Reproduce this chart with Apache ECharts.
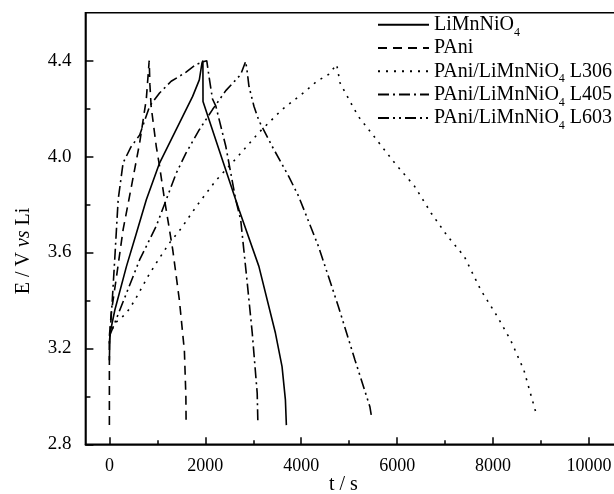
<!DOCTYPE html>
<html>
<head>
<meta charset="utf-8">
<script src="https://cdn.jsdelivr.net/npm/echarts@6/dist/echarts.min.js"></script>
<style>html,body{margin:0;padding:0;background:#fff}#c{width:614px;height:494px}</style>
</head>
<body>
<div id="c"></div>
<script>
// ---- data (t / s, E / V) ----
const seriesNames = ['LiMnNiO4', 'PAni', 'PAni/LiMnNiO4 L306', 'PAni/LiMnNiO4 L405', 'PAni/LiMnNiO4 L603'];
const limnnio = [[0,3.15],[10,3.26],[114,3.36],[356,3.542],[563,3.68],[770,3.82],[1046,3.973],[1392,4.112],[1736,4.251],[1875,4.32],[1930,4.39],[1950,4.40],[1952,4.23],[2300,4.02],[2703,3.778],[3117,3.542],[3463,3.263],[3600,3.124],[3670,2.985],[3690,2.88]];
const pani = [[0,2.88],[0,3.25],[40,3.35],[149,3.50],[286,3.695],[460,3.876],[632,4.058],[770,4.24],[830,4.40],[845,4.30],[870,4.21],[977,4.043],[1046,3.96],[1150,3.82],[1322,3.61],[1460,3.40],[1564,3.19],[1595,3.0],[1600,2.88]];
const l306 = [[0,3.25],[114,3.305],[356,3.347],[528,3.40],[804,3.50],[977,3.556],[1253,3.64],[1495,3.70],[1805,3.79],[2220,3.90],[2634,3.99],[3117,4.10],[3600,4.196],[4084,4.272],[4325,4.314],[4567,4.342],[4740,4.384],[4780,4.39],[4809,4.307],[5016,4.23],[5189,4.168],[5568,4.071],[5949,3.973],[6363,3.876],[6707,3.765],[7053,3.667],[7398,3.584],[7742,3.444],[8088,3.333],[8364,3.235],[8641,3.11],[8778,3.013],[8917,2.915]];
const l405 = [[0,3.22],[60,3.40],[120,3.60],[183,3.82],[286,3.974],[450,4.04],[632,4.09],[839,4.21],[1046,4.265],[1288,4.314],[1599,4.352],[1806,4.384],[1950,4.395],[2030,4.40],[2080,4.33],[2150,4.24],[2220,4.21],[2427,4.043],[2634,3.82],[2738,3.736],[2875,3.472],[2979,3.263],[3082,3.013],[3095,2.90]];
const l603 = [[0,3.25],[80,3.29],[356,3.43],[632,3.57],[977,3.71],[1185,3.82],[1392,3.93],[1599,4.015],[1875,4.112],[2150,4.196],[2427,4.275],[2738,4.342],[2842,4.397],[2876,4.35],[2910,4.293],[3014,4.21],[3117,4.15],[3393,4.043],[3739,3.917],[3946,3.834],[4360,3.625],[4774,3.375],[5120,3.152],[5431,2.957],[5465,2.915]];
const xMajorTicks = [0, 2000, 4000, 6000, 8000, 10000];
const xMinorTicks = [1000, 3000, 5000, 7000, 9000];
const yMajorTicks = [2.8, 3.2, 3.6, 4.0, 4.4];
const yMinorTicks = [3.0, 3.4, 3.8, 4.2];

const FONT = '"Liberation Serif", "Times New Roman", serif';
const dashTypes = ['solid', [9, 6], [2, 6], [11, 4, 2, 4], [11, 4, 2, 4, 2, 4]];
const datasets = [limnnio, pani, l306, l405, l603];

const chart = echarts.init(document.getElementById('c'), null, {renderer: 'canvas'});
const legendLabels = {
  'LiMnNiO4': 'LiMnNiO{s|4}',
  'PAni': 'PAni{s| }',
  'PAni/LiMnNiO4 L306': 'PAni/LiMnNiO{s|4}{n| L306}',
  'PAni/LiMnNiO4 L405': 'PAni/LiMnNiO{s|4}{n| L405}',
  'PAni/LiMnNiO4 L603': 'PAni/LiMnNiO{s|4}{n| L603}'
};
const option = {
  animation: false,
  backgroundColor: '#fff',
  grid: {left: 85.4, top: 12.7, right: -1.4, bottom: 49.7, show: true, borderColor: '#000', borderWidth: 1.5, containLabel: false, outerBoundsMode: 'none'},
  legend: {
    data: seriesNames,
    orient: 'vertical',
    left: 377, top: 14.7,
    padding: 0,
    itemWidth: 51, itemHeight: 14, itemGap: -0.7,
    itemStyle: {color: 'rgba(0,0,0,0)', borderWidth: 0, opacity: 0},
    formatter: n => legendLabels[n],
    textStyle: {
      fontFamily: FONT, fontSize: 20, color: '#000', lineHeight: 20, verticalAlign: 'top',
      rich: {
        n: {fontFamily: FONT, fontSize: 20, color: '#000', lineHeight: 20, verticalAlign: 'top'},
        s: {fontFamily: FONT, fontSize: 12, color: '#000', lineHeight: 12, verticalAlign: 'top', padding: [12, 0, 0, 0]}
      }
    }
  },
  xAxis: [
    {
      type: 'value', min: -500, max: 10550, position: 'bottom',
      axisLine: {show: true, onZero: false, lineStyle: {color: '#000', width: 1.5}},
      axisTick: {show: true, inside: true, length: 7, lineStyle: {color: '#000', width: 1.5}, customValues: xMajorTicks},
      axisLabel: {show: true, customValues: xMajorTicks, margin: 13, fontFamily: FONT, fontSize: 18, color: '#000', formatter: v => String(v)},
      splitLine: {show: false},
      name: 't / s', nameLocation: 'middle', nameGap: 30, nameMoveOverlap: false,
      nameTextStyle: {fontFamily: FONT, fontSize: 20, color: '#000', padding: [0, 14, 0, 0]}
    },
    {
      type: 'value', min: -500, max: 10550, position: 'bottom',
      axisLine: {show: false, onZero: false},
      axisTick: {show: true, inside: true, length: 4, lineStyle: {color: '#000', width: 1.5}, customValues: xMinorTicks},
      axisLabel: {show: false},
      splitLine: {show: false}
    }
  ],
  yAxis: [
    {
      type: 'value', min: 2.8, max: 4.6, position: 'left',
      axisLine: {show: true, onZero: false, lineStyle: {color: '#000', width: 1.5}},
      axisTick: {show: true, inside: true, length: 8, lineStyle: {color: '#000', width: 1.5}, customValues: yMajorTicks},
      axisLabel: {show: true, customValues: yMajorTicks, margin: 14, fontFamily: FONT, fontSize: 19, color: '#000', formatter: v => v.toFixed(1)},
      splitLine: {show: false},
      name: '{n|E / V }{i|vs}{n| Li}', nameLocation: 'middle', nameGap: 52,
      nameTextStyle: {
        fontFamily: FONT, fontSize: 20, color: '#000', padding: [0, 45, 0, 0],
        rich: {
          n: {fontFamily: FONT, fontSize: 20, color: '#000'},
          i: {fontFamily: FONT, fontSize: 20, color: '#000', fontStyle: 'italic'}
        }
      }
    },
    {
      type: 'value', min: 2.8, max: 4.6, position: 'left',
      axisLine: {show: false, onZero: false},
      axisTick: {show: true, inside: true, length: 5, lineStyle: {color: '#000', width: 1.5}, customValues: yMinorTicks},
      axisLabel: {show: false},
      splitLine: {show: false}
    }
  ],
  series: seriesNames.map((n, i) => ({
    name: n, type: 'line', data: datasets[i], xAxisIndex: 0, yAxisIndex: 0,
    symbol: 'none', smooth: false, clip: true,
    lineStyle: {color: '#000', width: 1.6, type: dashTypes[i]},
    itemStyle: {color: '#000'}
  }))
};
chart.setOption(option);
</script>
</body>
</html>
